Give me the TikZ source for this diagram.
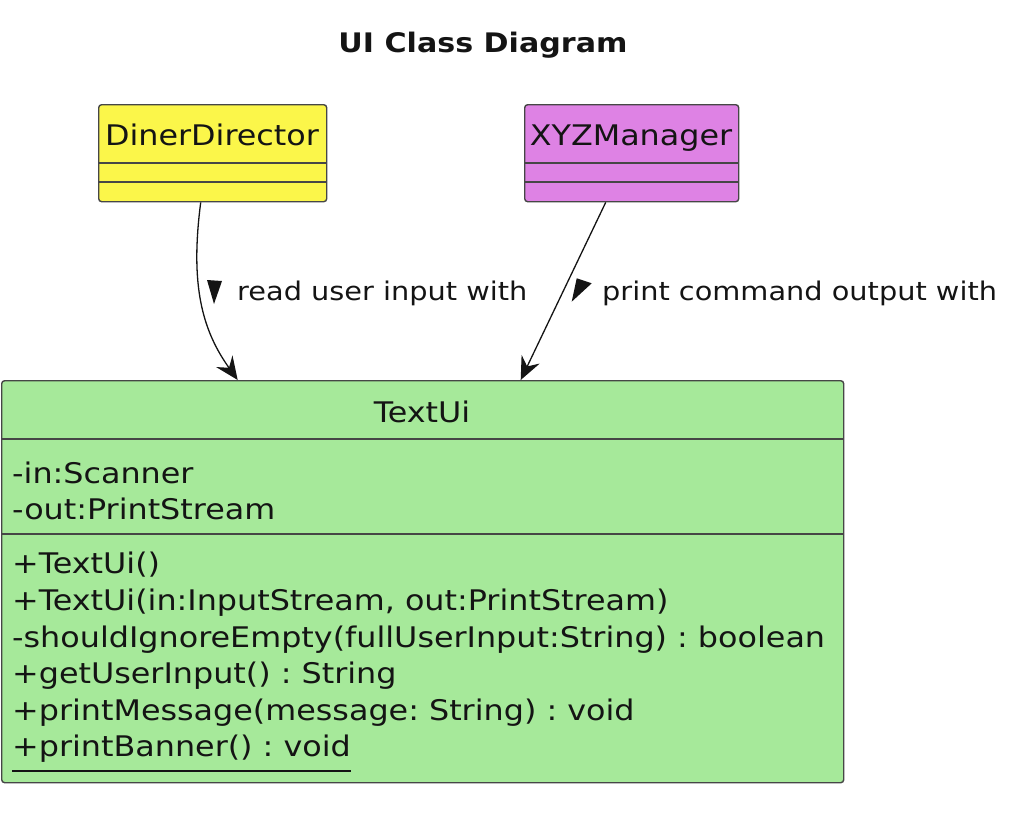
\documentclass[tikz,border=0pt]{standalone}
\usepackage{fontspec}
\setmainfont{DejaVu Sans}[FakeStretch=1.12]
\usetikzlibrary{arrows.meta}
\definecolor{ddfill}{RGB}{251,246,74}
\definecolor{xyzfill}{RGB}{222,130,228}
\definecolor{tuifill}{RGB}{166,233,154}
\definecolor{bord}{RGB}{70,70,70}
\definecolor{ink}{RGB}{20,20,20}
\frenchspacing
\begin{document}
\begin{tikzpicture}[x=1bp,y=-1bp,
  box/.style={draw=bord, line width=1.4bp, rounded corners=3bp, inner sep=0pt, anchor=north west},
  sepline/.style={draw=bord, line width=1.3bp},
  cname/.style={font=\fontsize{28.5}{35}\selectfont, text=ink, anchor=base, inner sep=0pt},
  member/.style={font=\fontsize{28.5}{35}\selectfont, text=ink, anchor=base west, inner sep=0pt},
  lbl/.style={font=\fontsize{25.8}{32}\selectfont, text=ink, anchor=base west, inner sep=0pt},
  rel/.style={draw=ink, line width=1.3bp, -{Stealth[length=23bp,width=20bp,inset=8bp]}},
  tri/.style={fill=ink}]
\useasboundingbox (0,0) rectangle (1022,814);
\node[font=\bfseries\fontsize{27}{34}\selectfont, text=ink, anchor=base, inner sep=0pt] (title) at (483,53) {UI Class Diagram};
% DinerDirector
\node[box, fill=ddfill, minimum width=228bp, minimum height=97bp] (dd) at (98,104) {};
\node[cname] (ddn) at (212,145) {DinerDirector};
\draw[sepline] ([yshift=-59bp]dd.north west) -- ([yshift=-59bp]dd.north east);
\draw[sepline] ([yshift=-78bp]dd.north west) -- ([yshift=-78bp]dd.north east);
% XYZManager
\node[box, fill=xyzfill, minimum width=214bp, minimum height=97bp] (xyz) at (524,104) {};
\node[cname] (xyzn) at (631,145) {XYZManager};
\draw[sepline] ([yshift=-59bp]xyz.north west) -- ([yshift=-59bp]xyz.north east);
\draw[sepline] ([yshift=-78bp]xyz.north west) -- ([yshift=-78bp]xyz.north east);
% TextUi
\node[box, fill=tuifill, minimum width=842bp, minimum height=402bp] (tui) at (1,380) {};
\node[cname] (tuin) at (422,422) {TextUi};
\draw[sepline] ([yshift=-59bp]tui.north west) -- ([yshift=-59bp]tui.north east);
\draw[sepline] ([yshift=-154bp]tui.north west) -- ([yshift=-154bp]tui.north east);
\node[member] (a1) at (12,483) {-in:Scanner};
\node[member] (a2) at (12,519.5) {-out:PrintStream};
\node[member] (m1) at (12,573) {+TextUi()};
\node[member] (m2) at (12,610) {+TextUi(in:InputStream, out:PrintStream)};
\node[member] (m3) at (12,647) {-shouldIgnoreEmpty(fullUserInput:String) : boolean};
\node[member] (m4) at (12,683.5) {+getUserInput() : String};
\node[member] (m5) at (12,720) {+printMessage(message: String) : void};
\node[member] (m6) at (12,756) {+printBanner() : void};
\draw[ink, line width=1.5bp] ([yshift=-15bp]m6.base west) -- ([yshift=-15bp]m6.base east);
% relations
\draw[rel] ([xshift=-12bp]dd.south) .. controls (190,285) and (202,330) .. ([xshift=-185bp]tui.north);
\draw[rel] ([xshift=-26bp]xyz.south) -- ([xshift=98bp]tui.north);
\fill[tri] (207,280) -- (222,281) -- (214,304) -- cycle;
\fill[tri] (576.7,278.3) -- (591.7,283.3) -- (571.7,301.7) -- cycle;
\node[lbl] (l1) at (237,300) {read user input with};
\node[lbl] (l2) at (602,300) {print command output with};
\end{tikzpicture}
\end{document}
